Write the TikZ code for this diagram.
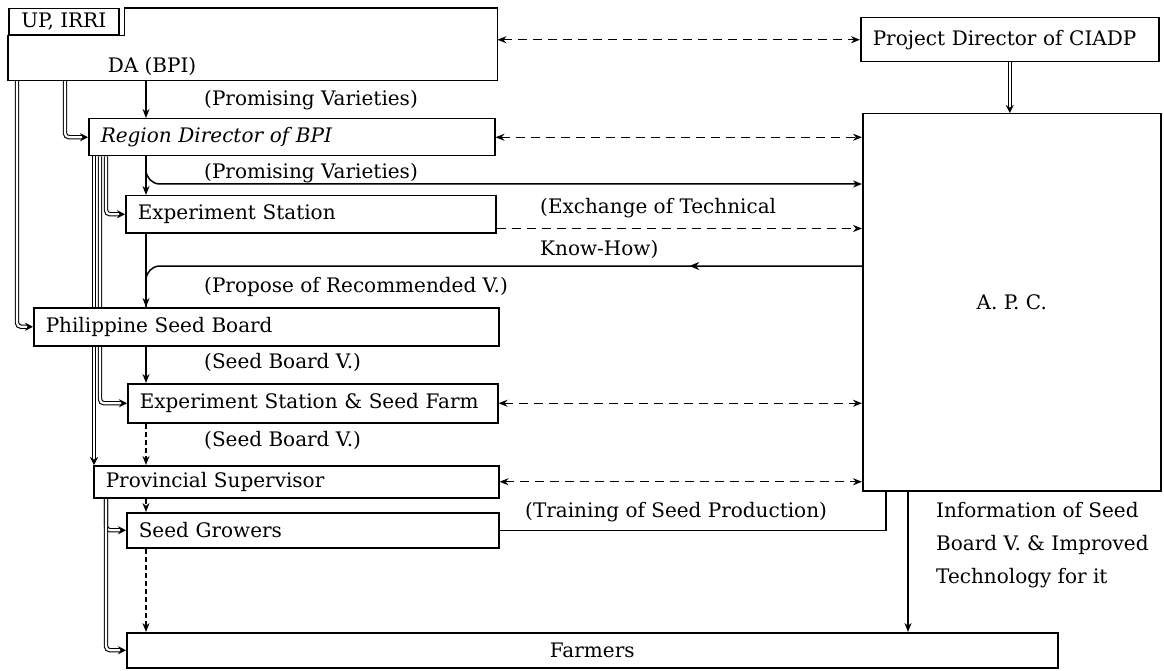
\documentclass[tikz,border=0pt]{standalone}
\usepackage{fontspec}
\setmainfont{DejaVu Serif}
\usetikzlibrary{arrows.meta,decorations.markings,calc}
\pgfdeclarelayer{bg}
\pgfsetlayers{bg,main}
\begin{document}
\begin{tikzpicture}[x=1pt,y=-1pt,
  font=\fontsize{20}{24}\selectfont,
  box/.style={draw,fill=white,line width=1.5pt,anchor=north west,inner xsep=12pt,inner ysep=0pt,align=left},
  plainbox/.style={draw,fill=white,line width=1.5pt,anchor=north west,inner sep=0pt},
  conn/.style={line width=1.5pt},
  tip/.style={-{Stealth[length=9pt,width=7pt]}},
  bi/.style={line width=1.4pt,dash pattern=on 9pt off 6pt,{Stealth[open,length=9pt,width=7pt]}-{Stealth[length=9pt,width=7pt]}},
  dsh/.style={line width=1.5pt,dash pattern=on 5pt off 3pt},
  dbl/.style={double,double distance=2.2pt,line width=1.1pt,rounded corners=4pt,-{Stealth[length=8pt,width=8pt]}},
  lbl/.style={anchor=west,inner sep=0pt}]
\useasboundingbox (0,0) rectangle (1164,671);

% boxes
\node[plainbox,minimum width=110pt,minimum height=26pt] (up) at (8,8) {UP, IRRI};
\node[anchor=north west,minimum width=489pt,minimum height=72pt,inner sep=0pt] (da) at (8,8) {};
\draw[line width=1.5pt] (up.south west) -- ([xshift=5pt]up.south east) -- ([xshift=5pt]up.north east) -- (da.north east) -- (da.south east) -- (da.south west) -- cycle;
\node (datext) at (152,66) {DA (BPI)};

\node[box,text width=274pt,minimum height=44pt] (pd) at (860,17) {Project Director of CIADP};
\node[plainbox,minimum width=298pt,minimum height=377pt] (apc) at (862,113) {A. P. C.};

\node[box,text width=382pt,minimum height=37pt] (rd) at (88,118) {\itshape Region Director of BPI};
\node[box,text width=346pt,minimum height=37pt] (es) at (125,195) {Experiment Station};
\node[box,text width=441pt,minimum height=38pt] (psb) at (33,307) {Philippine Seed Board};
\node[box,text width=346pt,minimum height=39pt] (essf) at (127,383) {Experiment Station \& Seed Farm};
\node[box,text width=381pt,minimum height=32pt] (ps) at (93,465) {Provincial Supervisor};
\node[box,text width=348pt,minimum height=35pt] (sg) at (126,512) {Seed Growers};
\node[plainbox,minimum width=931pt,minimum height=35pt] (farmers) at (126,632) {Farmers};

% labels
\node[lbl] (lpv1) at (204,100) {(Promising Varieties)};
\node[lbl] (lpv2) at (204,173) {(Promising Varieties)};
\node[lbl] (lex1) at (540,208) {(Exchange of Technical};
\node[lbl] (lex2) at (540,249) {Know-How)};
\node[lbl] (lpr) at (204,287) {(Propose of Recommended V.)};
\node[lbl] (lsb1) at (204,362) {(Seed Board V.)};
\node[lbl] (lsb2) at (204,440) {(Seed Board V.)};
\node[lbl] (ltr) at (525,512) {(Training of Seed Production)};
\node[lbl,align=left,font=\fontsize{20}{33}\selectfont] (info) at (936,545) {Information of Seed\\Board V. \& Improved\\Technology for it};

% helper coordinates
\coordinate (spine) at (146,0);
\coordinate (pvy) at (0,184);
\coordinate (khy) at (0,266);
\coordinate (la) at (17,0);
\coordinate (lb) at (65,0);
\coordinate (lc) at (94,0);
\coordinate (ld) at (100,0);
\coordinate (le) at (106,0);
\coordinate (exs) at ([yshift=5pt]es.south east);
\coordinate (infox) at ([xshift=46pt]apc.south west);

\begin{pgfonlayer}{bg}
% main spine
\draw[conn,tip] (spine |- da.south) -- (spine |- rd.north);
\draw[conn,tip] (spine |- rd.south) -- (spine |- es.north);
\draw[conn,tip] (spine |- es.south) -- (spine |- psb.north);
\draw[conn,tip] (spine |- psb.south) -- (spine |- essf.north);
\draw[dsh,tip] (spine |- essf.south) -- (spine |- ps.north);
\draw[dsh,tip] (spine |- ps.south) -- (spine |- sg.north);
\draw[dsh,tip] (spine |- sg.south) -- (spine |- farmers.north);

% branches to and from A.P.C.
\draw[conn,tip,rounded corners=14pt] (spine |- rd.south) |- (apc.west |- pvy);
\draw[conn,rounded corners=14pt,postaction={decorate},
  decoration={markings,mark=at position 0.23 with {\arrow{Stealth[length=10pt,width=8pt]}}}]
  (apc.west |- khy) -| (spine |- psb.north);
\draw[conn,tip,dash pattern=on 9pt off 6pt] (exs) -- (exs -| apc.west);
\draw[conn] (sg.east) -| ([xshift=24pt]apc.south west);
\draw[conn,tip] (infox) -- (infox |- farmers.north);

% dashed two-way links
\draw[bi] (pd.west -| da.east) -- (pd.west);
\draw[bi] (rd.east) -- (rd.east -| apc.west);
\draw[bi] (essf.east) -- (essf.east -| apc.west);
\draw[bi] (ps.east) -- (ps.east -| apc.west);

% double lines (administrative)
\draw[dbl] (pd.south) -- (pd.south |- apc.north);
\draw[dbl] (la |- da.south) |- (psb.west);
\draw[dbl] (lb |- da.south) |- (rd.west);
\draw[dbl] (lc |- rd.south) -- (lc |- ps.north);
\draw[dbl] (ld |- rd.south) |- (essf.west);
\draw[dbl] (le |- rd.south) |- (es.west);
\draw[dbl] (le |- ps.south) |- (sg.west);
\draw[dbl] (le |- ps.south) |- (farmers.west);
\end{pgfonlayer}
\end{tikzpicture}
\end{document}
